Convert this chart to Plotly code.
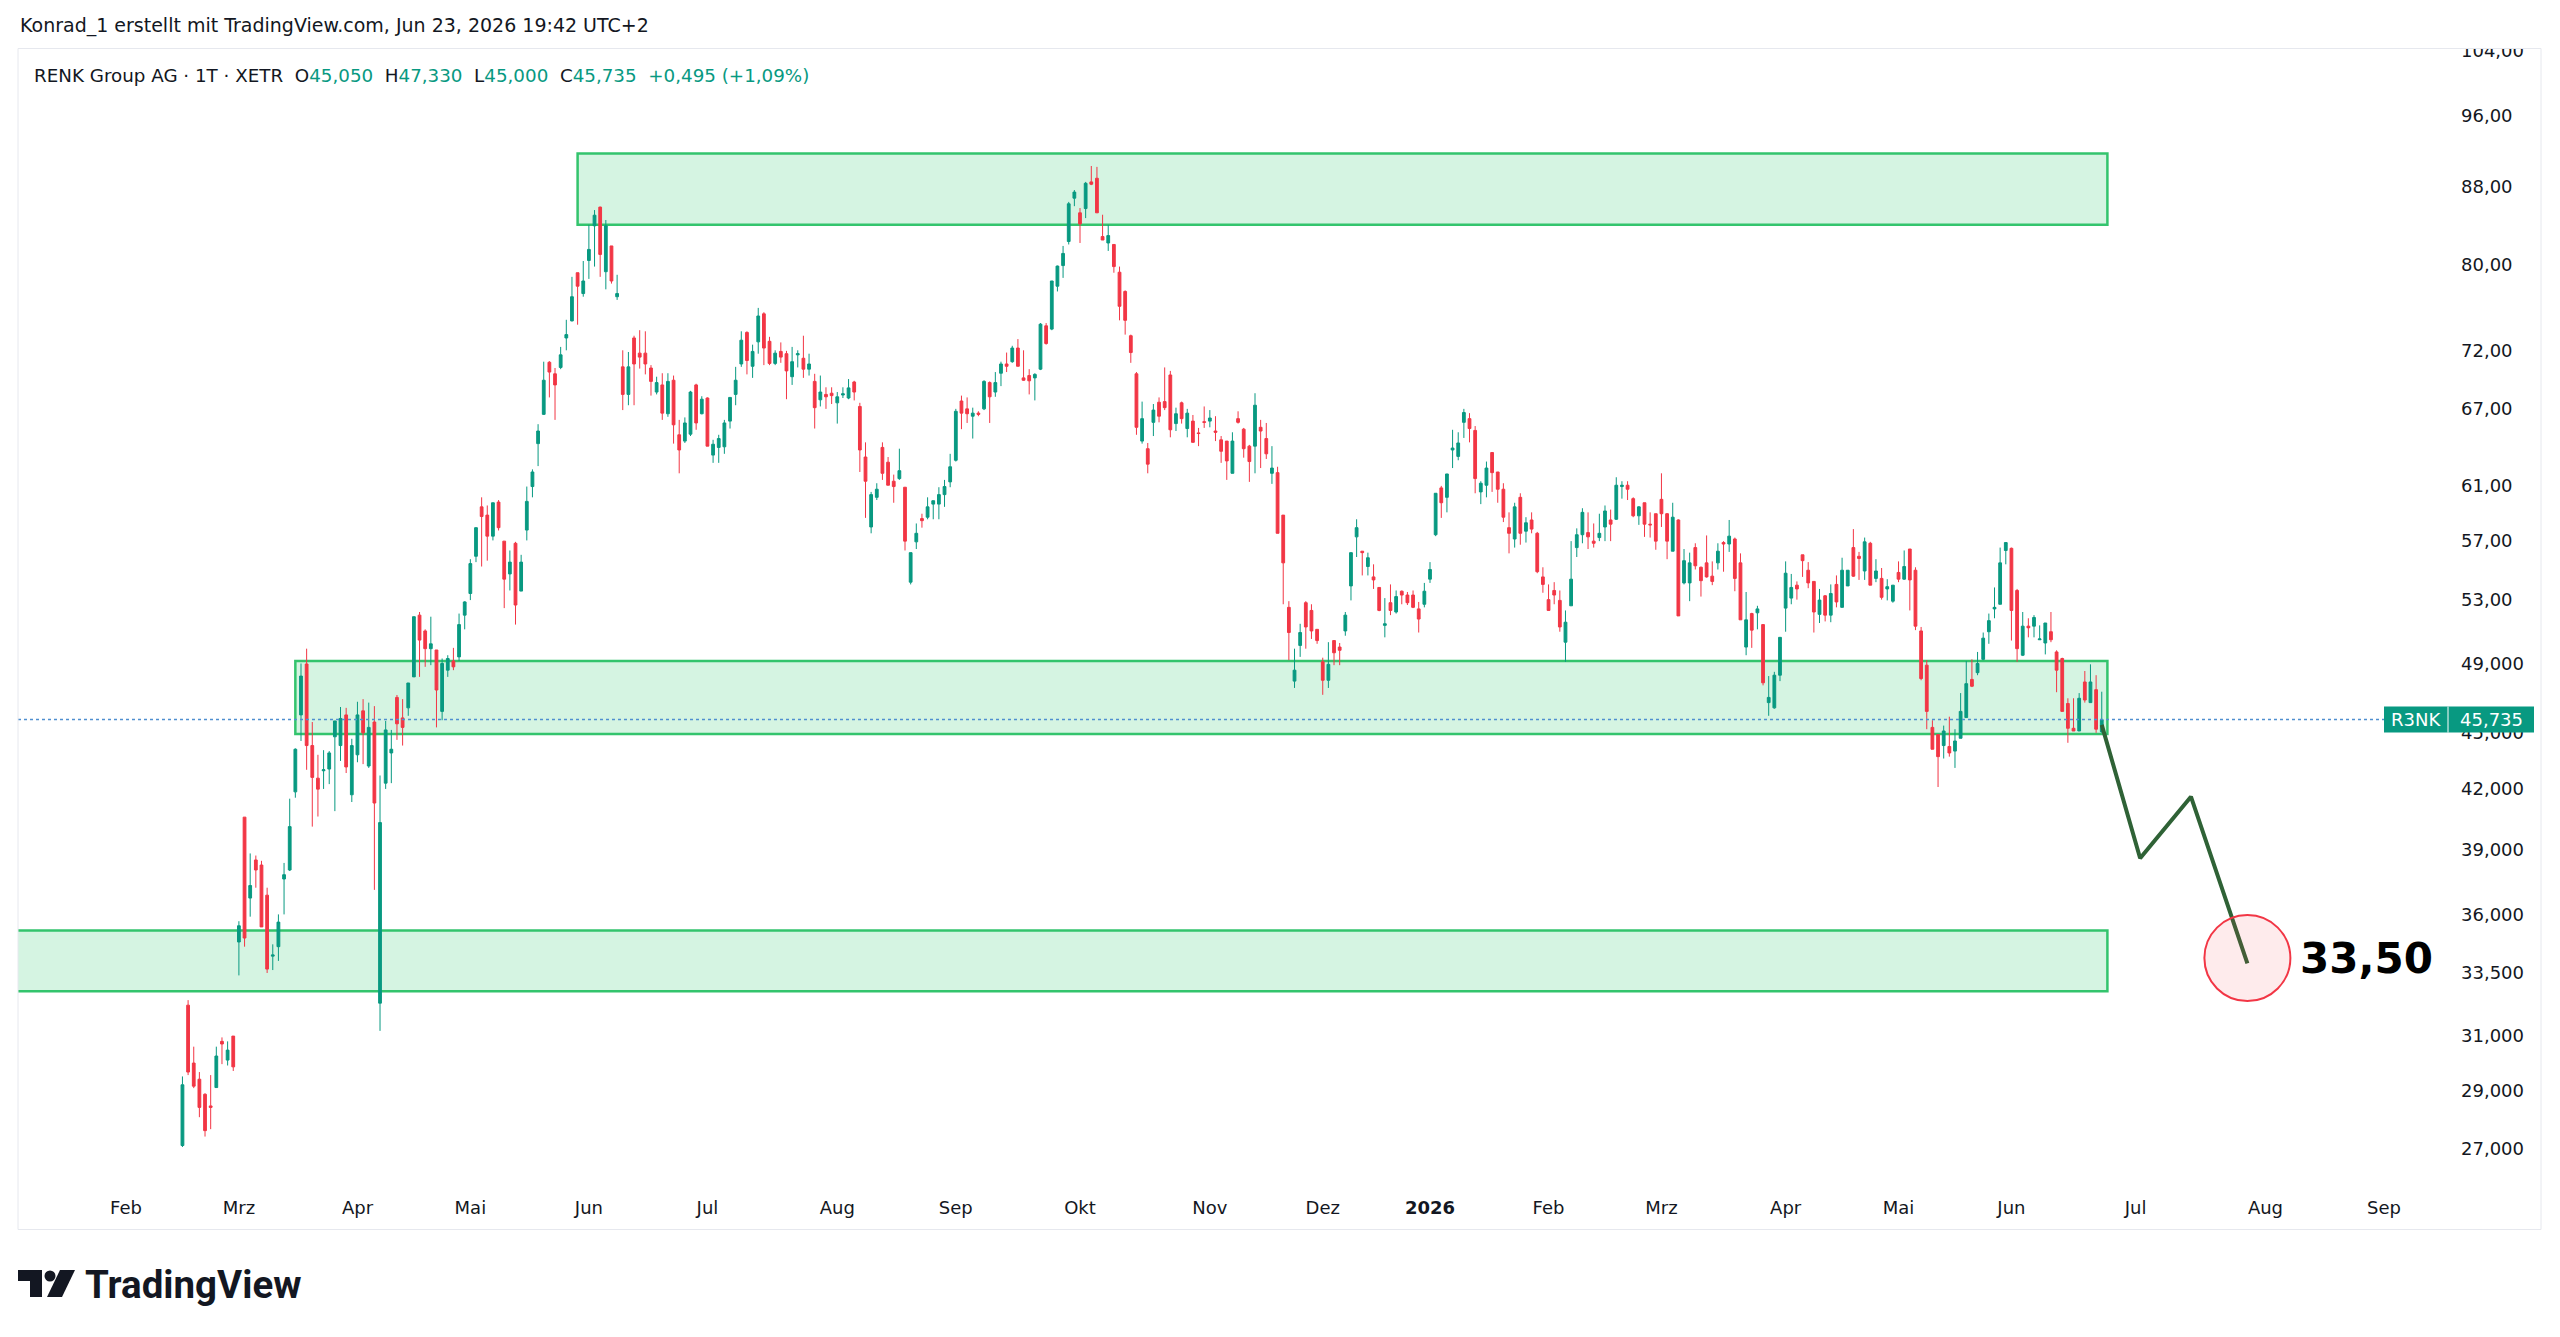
import math
import numpy as np
import plotly.graph_objects as go

# ---------------- data ----------------
FIRST_BAR = 10  # bar index of the first candle (index 0 = first trading day of Feb 2025)

opens = [
    27.1, 32.2, 29.99, 29.4, 28.86, 28.45, 29.1, 30.8, 30.1, 31.0,
    34.8, 40.57, 36.73, 38.49, 38.25, 36.86, 34.2, 34.6, 37.6, 38.02,
    41.85, 46.0, 48.97, 44.3, 42.56, 42.95, 43.04, 44.78, 44.3, 46.0,
    41.7, 43.8, 46.23, 43.2, 45.6, 32.28, 42.3, 43.9, 47.0, 45.83,
    46.4, 48.2, 52.0, 51.0, 49.9, 49.82, 46.2, 48.6, 49.15, 49.4,
    52.0, 53.4, 55.9, 59.4, 58.8, 57.3, 59.75, 56.95, 54.7, 56.8,
    53.56, 57.73, 60.9, 64.2, 66.55, 70.95, 69.95, 70.5, 73.1, 74.65,
    79.2, 77.2, 80.4, 83.9, 85.85, 79.3, 81.85, 76.9, 70.55, 68.2,
    73.1, 71.75, 71.75, 70.45, 68.4, 69.0, 66.6, 69.4, 64.9, 64.4,
    64.95, 69.0, 66.6, 67.9, 63.3, 63.9, 63.95, 66.0, 68.2, 70.8,
    73.6, 70.6, 72.75, 75.3, 72.8, 70.85, 71.9, 71.7, 69.7, 71.6,
    71.3, 70.35, 69.3, 67.75, 68.2, 68.3, 67.5, 68.15, 67.9, 69.25,
    67.2, 63.15, 57.95, 60.1, 63.9, 62.75, 61.3, 61.5, 60.85, 54.15,
    56.9, 58.55, 58.65, 59.6, 59.6, 60.3, 61.25, 62.9, 67.65, 67.0,
    66.4, 66.65, 67.0, 69.2, 68.4, 70.0, 70.8, 71.0, 72.2, 69.6,
    69.8, 69.6, 70.35, 74.2, 73.9, 77.9, 79.9, 82.3, 86.8, 85.25,
    85.7, 88.55, 88.95, 82.8, 82.15, 82.0, 79.25, 77.4, 73.3, 69.95,
    64.4, 63.8, 65.9, 67.55, 67.6, 69.85, 65.8, 67.5, 65.4, 66.0,
    65.05, 65.95, 66.0, 65.2, 64.5, 64.4, 61.9, 66.2, 65.35, 64.0,
    64.0, 65.5, 64.6, 61.9, 61.95, 58.8, 52.5, 47.95, 50.1, 52.8,
    52.3, 51.1, 49.1, 48.0, 50.4, 50.0, 51.0, 53.9, 57.25, 56.25,
    55.2, 54.5, 53.8, 51.35, 52.8, 52.2, 53.55, 53.3, 53.3, 52.4,
    52.7, 54.35, 57.4, 60.8, 60.1, 63.7, 63.2, 65.9, 66.2, 65.25,
    60.5, 61.0, 63.5, 62.0, 60.7, 57.9, 57.1, 60.1, 57.65, 58.45,
    57.5, 54.5, 53.0, 53.6, 52.95, 50.3, 52.6, 56.5, 57.4, 57.55,
    56.95, 57.2, 57.95, 58.45, 58.5, 60.9, 61.0, 60.0, 58.75, 59.7,
    58.15, 58.9, 59.95, 58.9, 56.25, 58.45, 54.1, 54.1, 56.5, 55.15,
    55.45, 54.55, 55.45, 56.85, 56.75, 57.1, 55.45, 50.0, 52.1, 52.15,
    51.4, 46.7, 46.4, 48.3, 52.45, 53.1, 53.95, 56.0, 54.95, 54.2,
    52.05, 53.25, 52.0, 54.0, 52.5, 53.9, 56.5, 55.9, 54.9, 56.8,
    54.4, 54.4, 53.7, 52.9, 54.8, 54.35, 56.4, 54.95, 51.0, 48.9,
    45.3, 44.9, 44.3, 44.25, 44.0, 44.7, 45.85, 48.05, 48.45, 49.25,
    50.95, 52.4, 52.7, 56.3, 56.45, 53.6, 49.5, 51.3, 51.3, 50.45,
    50.25, 50.95, 49.7, 49.3, 46.65, 45.25, 45.1, 47.9, 46.7, 47.45, 45.05,
]
highs = [
    29.5, 32.4, 30.6, 29.66, 28.9, 29.55, 30.6, 30.95, 30.8, 31.0,
    35.7, 40.57, 38.8, 38.7, 38.45, 37.2, 34.7, 36.0, 38.35, 41.5,
    44.15, 49.0, 49.9, 45.6, 43.8, 44.05, 44.0, 45.66, 46.45, 46.4,
    44.67, 46.75, 46.9, 46.7, 46.5, 42.7, 45.66, 45.16, 47.14, 46.9,
    47.84, 51.9, 52.2, 51.1, 51.9, 49.82, 49.3, 49.5, 49.95, 52.1,
    52.9, 55.7, 57.9, 60.1, 59.5, 59.7, 59.9, 56.95, 56.3, 56.9,
    56.0, 60.9, 62.2, 65.75, 71.0, 71.05, 70.45, 72.3, 74.75, 78.8,
    79.2, 80.35, 84.0, 85.54, 85.9, 84.5, 81.85, 79.0, 72.0, 71.85,
    73.3, 73.8, 73.7, 70.7, 69.7, 70.0, 70.0, 69.8, 66.1, 66.3,
    68.5, 69.1, 68.05, 67.95, 64.5, 64.9, 66.1, 67.95, 70.55, 73.7,
    73.7, 72.5, 75.85, 75.45, 73.2, 72.0, 72.7, 71.95, 72.3, 72.0,
    73.3, 71.7, 69.95, 69.8, 68.8, 68.8, 68.4, 68.8, 69.5, 69.35,
    67.5, 64.3, 60.5, 61.15, 64.3, 63.15, 61.8, 63.8, 60.85, 56.15,
    58.2, 58.9, 60.1, 59.85, 60.85, 61.4, 63.4, 67.0, 68.1, 67.95,
    67.1, 66.8, 69.4, 69.3, 70.1, 71.0, 71.8, 72.4, 73.0, 72.0,
    70.35, 70.0, 74.45, 74.45, 78.4, 79.9, 81.85, 86.4, 87.67, 85.75,
    88.55, 90.3, 90.2, 85.05, 84.0, 82.0, 79.8, 77.5, 73.4, 70.1,
    67.6, 64.25, 67.4, 67.95, 70.5, 70.2, 67.1, 67.6, 67.0, 66.5,
    65.45, 67.2, 66.9, 66.4, 64.8, 64.4, 65.1, 66.8, 65.45, 64.1,
    68.3, 66.1, 65.85, 64.0, 62.4, 58.8, 52.9, 49.9, 51.45, 52.9,
    52.7, 51.1, 49.35, 50.3, 50.4, 50.25, 52.2, 56.15, 58.5, 56.25,
    56.15, 55.35, 53.8, 53.1, 54.0, 53.6, 53.6, 53.5, 53.6, 52.85,
    54.1, 55.5, 60.4, 60.95, 61.85, 65.3, 65.1, 67.0, 66.65, 65.6,
    61.3, 62.8, 63.5, 62.0, 61.15, 59.0, 59.7, 60.4, 58.65, 59.0,
    57.6, 55.15, 54.0, 54.15, 53.6, 52.3, 56.95, 57.85, 59.3, 59.0,
    58.2, 58.9, 59.5, 59.2, 61.6, 61.3, 61.3, 60.1, 59.45, 59.7,
    59.0, 58.9, 61.9, 58.95, 59.7, 58.5, 56.4, 56.15, 56.8, 55.2,
    57.35, 55.55, 56.8, 56.95, 58.45, 57.2, 56.1, 53.5, 52.15, 52.6,
    51.4, 48.25, 48.5, 50.6, 55.55, 54.7, 54.2, 56.0, 55.5, 54.2,
    53.7, 53.3, 54.0, 54.6, 55.8, 54.95, 57.8, 56.2, 57.2, 56.9,
    55.7, 55.1, 54.35, 53.95, 55.55, 56.3, 56.4, 55.15, 51.25, 49.2,
    45.7, 44.9, 45.4, 45.9, 45.2, 47.25, 49.15, 49.25, 49.7, 50.9,
    52.1, 53.8, 56.5, 56.85, 56.5, 53.7, 52.2, 51.8, 52.0, 51.35,
    51.5, 52.2, 49.8, 49.35, 46.95, 46.95, 47.25, 48.55, 48.95, 48.3, 47.33,
]
lows = [
    27.05, 29.55, 29.08, 28.06, 27.4, 27.65, 29.1, 29.95, 29.9, 29.7,
    33.4, 34.6, 35.9, 37.2, 35.45, 33.5, 33.62, 34.0, 36.0, 37.97,
    41.55, 44.55, 43.0, 40.1, 40.6, 42.0, 42.25, 40.87, 43.47, 42.83,
    41.33, 43.4, 43.3, 43.1, 37.1, 31.2, 42.0, 42.3, 44.61, 44.3,
    45.95, 48.2, 48.2, 48.8, 48.9, 45.3, 45.7, 48.2, 48.6, 49.15,
    51.1, 52.97, 55.5, 55.2, 55.6, 57.0, 57.7, 52.45, 53.6, 51.4,
    53.56, 57.0, 60.1, 62.45, 66.5, 67.95, 66.1, 70.35, 72.0, 74.6,
    74.3, 76.9, 78.6, 79.8, 78.8, 77.6, 78.15, 76.6, 66.9, 67.3,
    67.3, 70.4, 69.9, 68.1, 68.2, 66.1, 66.35, 64.2, 61.9, 64.25,
    64.8, 65.3, 66.55, 64.0, 62.7, 62.7, 63.4, 65.4, 67.3, 70.55,
    69.9, 69.6, 71.7, 70.7, 70.7, 70.7, 70.9, 67.8, 69.0, 70.5,
    69.6, 69.8, 65.4, 67.2, 67.0, 67.4, 65.8, 67.9, 67.8, 67.7,
    62.0, 58.6, 57.5, 59.9, 61.4, 61.0, 59.7, 61.4, 56.3, 54.0,
    56.4, 57.9, 58.5, 58.5, 58.5, 59.4, 60.85, 62.8, 65.35, 65.85,
    64.6, 66.4, 66.9, 65.85, 68.0, 68.9, 70.1, 70.9, 70.6, 69.35,
    68.2, 67.7, 70.27, 72.5, 73.8, 77.4, 78.7, 82.0, 85.95, 82.15,
    84.7, 88.2, 85.25, 82.45, 81.35, 79.2, 74.7, 73.4, 70.9, 64.9,
    64.2, 61.9, 64.8, 65.9, 66.9, 64.7, 65.2, 65.8, 64.7, 64.3,
    64.0, 65.45, 65.5, 64.4, 62.7, 61.4, 61.9, 65.8, 63.1, 61.25,
    61.9, 62.3, 63.0, 61.1, 57.5, 52.7, 49.2, 47.55, 49.4, 49.9,
    50.5, 50.2, 47.15, 47.55, 48.9, 48.9, 50.7, 52.95, 55.85, 54.6,
    54.6, 53.7, 52.25, 50.6, 52.0, 52.1, 52.7, 52.65, 52.45, 50.9,
    52.5, 54.1, 57.3, 58.6, 59.0, 62.3, 62.9, 64.65, 64.3, 60.4,
    59.6, 60.1, 60.5, 59.7, 58.3, 56.1, 56.5, 56.7, 56.85, 57.5,
    54.75, 53.45, 52.3, 52.7, 50.95, 49.1, 52.6, 55.85, 56.8, 56.4,
    56.5, 56.95, 56.95, 56.95, 58.45, 60.0, 59.9, 58.65, 58.1, 57.25,
    57.2, 56.35, 57.95, 55.7, 56.25, 51.95, 54.0, 52.9, 55.0, 53.2,
    54.45, 53.95, 55.0, 54.85, 56.2, 53.55, 51.7, 49.5, 49.95, 51.1,
    47.7, 45.95, 46.35, 47.95, 50.95, 52.7, 53.0, 54.5, 53.75, 50.9,
    51.5, 51.6, 51.55, 52.5, 52.5, 53.9, 54.5, 54.3, 54.3, 53.95,
    54.15, 53.0, 52.95, 52.8, 54.15, 54.3, 52.3, 51.05, 48.0, 45.2,
    44.1, 42.1, 43.6, 43.7, 43.1, 44.7, 45.85, 47.6, 48.3, 49.2,
    50.2, 51.8, 52.7, 55.35, 50.4, 49.1, 49.45, 50.6, 50.6, 50.45,
    49.55, 50.3, 47.3, 46.2, 44.45, 45.1, 45.1, 46.7, 46.7, 45.0, 45.0,
]
closes = [
    29.2, 29.66, 29.15, 28.4, 27.6, 28.4, 30.25, 30.7, 30.47, 29.85,
    35.5, 34.97, 37.3, 38.02, 35.45, 33.66, 34.25, 35.66, 37.8, 40.1,
    44.1, 48.25, 44.3, 42.6, 41.99, 43.0, 43.9, 45.66, 45.8, 43.15,
    44.3, 46.0, 45.0, 45.3, 41.28, 40.3, 45.16, 44.1, 45.5, 45.3,
    47.84, 51.9, 50.43, 49.9, 50.2, 47.43, 49.0, 49.3, 48.8, 51.4,
    52.85, 55.4, 57.9, 58.7, 57.3, 59.7, 57.9, 54.35, 55.5, 52.65,
    55.5, 59.8, 62.0, 65.2, 69.4, 70.1, 69.0, 71.6, 73.4, 76.9,
    77.9, 78.4, 81.5, 85.0, 81.0, 83.9, 78.4, 77.2, 68.2, 70.55,
    70.8, 71.4, 70.8, 69.3, 69.2, 66.65, 69.3, 65.7, 63.7, 65.85,
    68.4, 65.85, 67.8, 64.0, 64.15, 64.6, 65.85, 67.95, 69.4, 72.9,
    71.1, 71.9, 75.1, 72.2, 70.85, 71.75, 71.4, 70.2, 71.0, 71.7,
    70.35, 70.8, 67.1, 68.4, 68.0, 68.1, 68.0, 68.25, 68.75, 68.4,
    63.7, 61.3, 60.3, 60.7, 61.9, 61.0, 60.9, 62.1, 56.95, 56.15,
    57.5, 58.4, 59.4, 59.85, 60.3, 60.9, 62.4, 66.8, 66.65, 66.6,
    66.65, 66.55, 69.3, 68.0, 69.2, 70.8, 70.6, 72.2, 70.6, 69.4,
    69.35, 69.9, 74.35, 72.6, 78.4, 79.85, 81.1, 86.2, 87.45, 84.1,
    88.4, 88.3, 85.25, 82.45, 82.9, 79.8, 76.0, 74.7, 71.8, 65.5,
    66.2, 62.6, 66.9, 66.4, 67.1, 65.3, 66.6, 66.2, 66.65, 64.3,
    65.0, 65.9, 66.25, 65.1, 63.6, 62.85, 64.4, 65.9, 63.8, 62.8,
    67.3, 65.2, 63.4, 62.3, 57.5, 55.45, 50.9, 48.6, 50.9, 51.25,
    51.0, 50.4, 48.0, 48.95, 49.65, 49.8, 52.0, 56.15, 57.9, 56.15,
    55.8, 54.3, 52.3, 51.45, 52.3, 53.2, 53.3, 52.8, 52.5, 51.75,
    53.55, 55.0, 60.4, 59.7, 61.85, 63.85, 64.25, 66.7, 65.4, 61.5,
    61.15, 62.3, 61.95, 60.7, 58.65, 57.5, 59.4, 57.5, 58.25, 57.8,
    54.85, 54.0, 52.3, 53.3, 51.25, 51.55, 54.35, 57.4, 59.0, 57.25,
    56.8, 57.5, 59.1, 58.15, 61.0, 61.0, 60.7, 58.75, 59.4, 58.15,
    58.1, 56.95, 58.9, 56.95, 58.65, 51.95, 55.6, 55.45, 55.25, 54.25,
    54.5, 54.2, 56.25, 56.75, 57.3, 54.4, 51.7, 51.7, 51.05, 52.4,
    47.85, 47.0, 48.3, 50.6, 54.75, 53.8, 53.7, 55.6, 54.1, 52.2,
    52.97, 52.0, 53.4, 52.85, 54.95, 54.95, 54.55, 55.75, 56.9, 53.95,
    54.9, 53.15, 53.85, 53.95, 54.35, 55.2, 54.3, 51.3, 48.1, 46.2,
    44.1, 43.7, 45.1, 43.9, 44.55, 46.2, 47.8, 47.65, 49.0, 50.55,
    51.65, 52.5, 55.45, 56.85, 52.3, 49.9, 51.3, 51.2, 51.85, 50.5,
    51.5, 50.45, 48.6, 46.2, 45.25, 45.1, 46.95, 46.85, 47.9, 45.2, 45.735,
]

# month labels on the time axis, and the bar index where each month starts
month_bar_index = [0, 20, 41, 61, 82, 103, 126, 147, 169, 192, 212, 231,
                   252, 272, 294, 314, 334, 356, 379, 400]
month_labels = ["Feb", "Mrz", "Apr", "Mai", "Jun", "Jul", "Aug", "Sep", "Okt",
                "Nov", "Dez", "<b>2026</b>", "Feb", "Mrz", "Apr", "Mai", "Jun",
                "Jul", "Aug", "Sep"]

price_ticks = [104, 96, 88, 80, 72, 67, 61, 57, 53, 49, 45, 42, 39, 36, 33.5, 31, 29, 27]
price_tick_labels = ["104,00", "96,00", "88,00", "80,00", "72,00", "67,00", "61,00",
                     "57,00", "53,00", "49,000", "45,000", "42,000", "39,000",
                     "36,000", "33,500", "31,000", "29,000", "27,000"]

# zones: (start bar, end bar, low price, high price)
zone_start = [80, 30, -30]
zone_end = [351, 351, 351]
zone_low = [84.0, 44.94, 32.76]
zone_high = [91.7, 49.15, 35.3]

# projected path (bar index, price)
proj_x = [350, 356.8, 365.8, 375.8]
proj_y = [45.44, 38.57, 41.6, 33.9]
target_x = 375.8
target_price = 34.12
target_label = "33,50"

last_price = 45.735
last_price_label = "45,735"
symbol = "R3NK"

assert len(opens) == len(highs) == len(lows) == len(closes)
bars = np.arange(FIRST_BAR, FIRST_BAR + len(opens))

# ---------------- layout geometry ----------------
W, H = 2560, 1337
PL, PR, PT, PB = 18, 2386, 49, 1183
BAR_PX = 5.645
BAR0_PX = 126.0
x_range = [(PL - BAR0_PX) / BAR_PX, (PR - BAR0_PX) / BAR_PX]
y_range = [math.log10(25.88), math.log10(104.26)]
PX_PER_DECADE = (PB - PT) / (y_range[1] - y_range[0])

GREEN = "#089981"
RED = "#F23645"
TXT = "#131722"
FONT = "DejaVu Sans"


def px_x(px):
    return (px - PL) / (PR - PL)


def px_y(py):
    return (PB - py) / (PB - PT)


def price_shift(p, dpx):
    """price that lies dpx pixels above price p on the log axis"""
    return 10 ** (math.log10(p) + dpx / PX_PER_DECADE)


fig = go.Figure()

fig.add_trace(go.Candlestick(
    x=bars, open=opens, high=highs, low=lows, close=closes,
    increasing=dict(line=dict(color=GREEN, width=1), fillcolor=GREEN),
    decreasing=dict(line=dict(color=RED, width=1), fillcolor=RED),
    whiskerwidth=0, hoverinfo="skip", showlegend=False,
))

fig.add_trace(go.Scatter(
    x=proj_x, y=proj_y, mode="lines",
    line=dict(color="#2f6236", width=4), hoverinfo="skip", showlegend=False,
))

shapes = []
for x0, x1, lo, hi in zip(zone_start, zone_end, zone_low, zone_high):
    shapes.append(dict(type="rect", xref="x", yref="y", x0=x0, x1=x1, y0=lo, y1=hi,
                       fillcolor="rgba(46,200,110,0.2)",
                       line=dict(color="#33c46d", width=2.5), layer="below"))

# last price dotted line
shapes.append(dict(type="line", xref="paper", yref="y", x0=0, x1=1,
                   y0=last_price, y1=last_price,
                   line=dict(color="#4f8fd0", width=1.5, dash="dot"), layer="above"))

# target circle (radius 43 px)
R_PX = 43
shapes.append(dict(type="circle", xref="x", yref="y",
                   x0=target_x - R_PX / BAR_PX, x1=target_x + R_PX / BAR_PX,
                   y0=price_shift(target_price, -R_PX), y1=price_shift(target_price, R_PX),
                   fillcolor="rgba(242,54,69,0.10)", line=dict(color=RED, width=2),
                   layer="above"))

# cover the top of the price scale above the pane
shapes.append(dict(type="rect", xref="paper", yref="paper",
                   x0=px_x(2387), x1=px_x(2560), y0=px_y(48), y1=px_y(0),
                   fillcolor="white", line=dict(width=0), layer="above"))
# pane frame
shapes.append(dict(type="rect", xref="paper", yref="paper",
                   x0=px_x(18), x1=px_x(2541), y0=px_y(1229.5), y1=px_y(48.5),
                   fillcolor="rgba(0,0,0,0)", line=dict(color="#e6e8ee", width=1),
                   layer="above"))

# last price tag
tag_lo = price_shift(last_price, -13)
tag_hi = price_shift(last_price, 13)
shapes.append(dict(type="rect", xref="paper", yref="y", y0=tag_lo, y1=tag_hi,
                   x0=px_x(2384), x1=px_x(2534), fillcolor=GREEN,
                   line=dict(width=0), layer="above"))
shapes.append(dict(type="line", xref="paper", yref="y", y0=tag_lo, y1=tag_hi,
                   x0=px_x(2448), x1=px_x(2448),
                   line=dict(color="white", width=1), layer="above"))


# TradingView logo glyph
def path_px(points):
    return "M " + " L ".join(f"{px_x(a):.5f},{px_y(b):.5f}" for a, b in points) + " Z"


logo_color = "#131722"
shapes.append(dict(type="path", xref="paper", yref="paper",
                   path=path_px([(18, 1270), (42, 1270), (42, 1297), (30, 1297), (30, 1281), (18, 1281)]),
                   fillcolor=logo_color, line=dict(width=0), layer="above"))
shapes.append(dict(type="circle", xref="paper", yref="paper",
                   x0=px_x(44.5), x1=px_x(55.5), y0=px_y(1281.5), y1=px_y(1270.5),
                   fillcolor=logo_color, line=dict(width=0), layer="above"))
shapes.append(dict(type="path", xref="paper", yref="paper",
                   path=path_px([(60, 1270), (75, 1270), (62, 1297), (47, 1297)]),
                   fillcolor=logo_color, line=dict(width=0), layer="above"))

annotations = []
annotations.append(dict(xref="paper", yref="paper", x=px_x(18), y=px_y(26),
                        xanchor="left", yanchor="middle", showarrow=False,
                        text="Konrad_1 erstellt mit TradingView.com, Jun 23, 2026 19:42 UTC+2",
                        font=dict(family=FONT, size=19, color=TXT)))


def val(v):
    return f'<span style="color:{GREEN}">{v}</span>'


NB = "\u00a0"
legend_text = ("RENK Group AG · 1T · XETR" + NB * 2 + "O" + val("45,050") + NB * 2 + "H" + val("47,330")
               + NB * 2 + "L" + val("45,000") + NB * 2 + "C" + val("45,735") + NB * 2
               + val("+0,495 (+1,09%)"))
annotations.append(dict(xref="paper", yref="paper", x=px_x(32), y=px_y(75),
                        xanchor="left", yanchor="middle", showarrow=False,
                        text=legend_text, font=dict(family=FONT, size=18.3, color=TXT)))

annotations.append(dict(xref="x", yref="y", x=(2298 - BAR0_PX) / BAR_PX,
                        y=math.log10(target_price), xanchor="left", yanchor="middle",
                        showarrow=False, text=f"<b>{target_label}</b>",
                        font=dict(family=FONT, size=42, color="#000000")))

annotations.append(dict(xref="paper", yref="y", x=px_x(2416), y=math.log10(last_price),
                        xanchor="center", yanchor="middle", showarrow=False, text=symbol,
                        font=dict(family=FONT, size=18, color="white")))
annotations.append(dict(xref="paper", yref="y", x=px_x(2491), y=math.log10(last_price),
                        xanchor="center", yanchor="middle", showarrow=False, text=last_price_label,
                        font=dict(family=FONT, size=18, color="white")))

annotations.append(dict(xref="paper", yref="paper", x=px_x(83), y=px_y(1284),
                        xanchor="left", yanchor="middle", showarrow=False,
                        text="<b>TradingView</b>",
                        font=dict(family="Roboto", size=38.5, color=TXT)))

fig.update_layout(
    width=W, height=H,
    margin=dict(l=PL, r=W - PR, t=PT, b=H - PB, pad=0),
    paper_bgcolor="white", plot_bgcolor="white",
    showlegend=False, hovermode=False, boxgap=0.3,
    shapes=shapes, annotations=annotations,
    font=dict(family=FONT, size=18, color=TXT),
    xaxis=dict(range=x_range, tickvals=month_bar_index, ticktext=month_labels,
               showgrid=False, zeroline=False, showline=False, ticks="",
               ticklabelstandoff=12, rangeslider=dict(visible=False),
               tickfont=dict(family=FONT, size=18, color=TXT), fixedrange=True),
    yaxis=dict(type="log", range=y_range, side="right", tickvals=price_ticks,
               ticktext=price_tick_labels, showgrid=False, zeroline=False,
               showline=False, ticks="", ticklabelstandoff=74,
               tickfont=dict(family=FONT, size=18, color=TXT), fixedrange=True),
)

fig.write_html("out.html")
